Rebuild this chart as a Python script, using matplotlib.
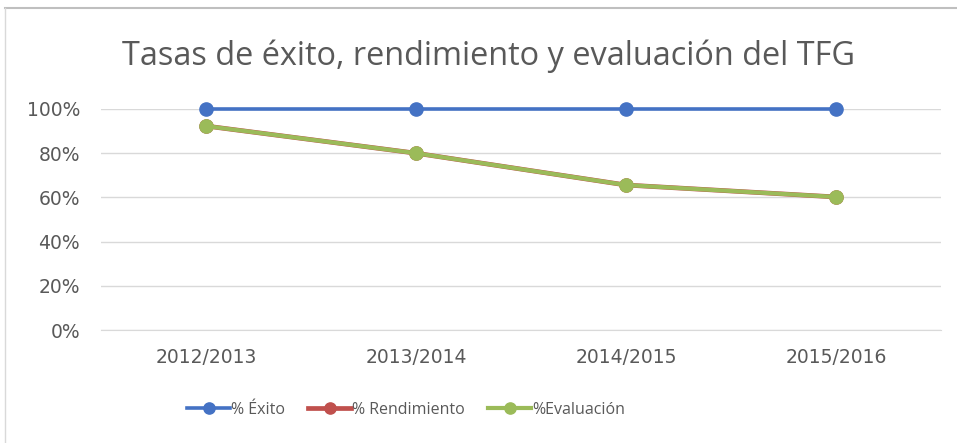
import matplotlib
matplotlib.use("Agg")
import matplotlib.pyplot as plt
from matplotlib.lines import Line2D
from matplotlib.ticker import FuncFormatter

categories = ["2012/2013", "2013/2014", "2014/2015", "2015/2016"]
exito = [1.00, 1.00, 1.00, 1.00]
rendimiento = [0.923, 0.80, 0.656, 0.602]
evaluacion = [0.923, 0.80, 0.656, 0.602]

plt.rcParams['font.family'] = ['Open Sans', 'DejaVu Sans']

fig = plt.figure(figsize=(9.57, 4.43), dpi=100)
W, H = 957, 443
ax = fig.add_axes([101 / W, 1 - 330 / H, 840 / W, 221 / H])

x = list(range(len(categories)))
ax.plot(x, exito, color="#4472C4", label="% Éxito", zorder=3,
        lw=2.6, marker="o", ms=9.5, clip_on=False)
ax.plot(x, rendimiento, color="#C0504D", label="% Rendimiento", zorder=3,
        lw=3.4, marker="o", ms=9.5, clip_on=False)
ax.plot(x, evaluacion, color="#9BBB59", label="%Evaluación", zorder=4,
        lw=3.0, marker="o", ms=9.5, clip_on=False)

ax.set_xlim(-0.5, 3.5)
ax.set_ylim(0, 1)
ax.set_yticks([0, 0.2, 0.4, 0.6, 0.8, 1.0])
ax.yaxis.set_major_formatter(FuncFormatter(lambda v, p: f"{v*100:.0f}%"))
ax.set_xticks(x)
ax.set_xticklabels(categories)
ax.grid(axis="y", color="#D9D9D9", lw=1)
ax.set_axisbelow(True)
for s in ["top", "right", "left"]:
    ax.spines[s].set_visible(False)
ax.spines["bottom"].set_color("#D9D9D9")
ax.tick_params(axis="both", length=0, colors="#595959", labelsize=13.5)
ax.tick_params(axis="y", pad=15)
ax.tick_params(axis="x", pad=13)
for lab in ax.get_xticklabels() + ax.get_yticklabels():
    lab.set_family("DejaVu Sans")

fig.text(488 / W, 1 - 56 / H, "Tasas de éxito, rendimiento y evaluación del TFG",
         ha="center", va="center", fontsize=23.4, color="#595959")

leg = fig.legend(loc="center", bbox_to_anchor=(406 / W, 1 - 410 / H), ncol=3,
                 frameon=False, fontsize=11.5, handlelength=2.7, columnspacing=1.45,
                 handletextpad=0.05, markerscale=0.85)
for t in leg.get_texts():
    t.set_color("#595959")

# chart frame
fig.add_artist(Line2D([5 / W, 1], [1 - 8 / H, 1 - 8 / H], color="#BFBFBF", lw=1.5))
fig.add_artist(Line2D([5 / W, 5 / W], [0, 1 - 8 / H], color="#D9D9D9", lw=1))

fig.savefig("out.png", dpi=100)
